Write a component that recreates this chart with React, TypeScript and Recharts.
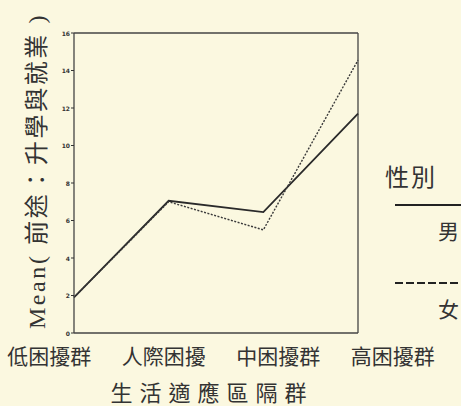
import React from 'react';
import { LineChart, Line, XAxis, YAxis, Legend, Label, ReferenceLine } from 'recharts';

const categories = ['低困擾群', '人際困擾', '中困擾群', '高困擾群'];
const maleValues = [1.9, 7.05, 6.45, 11.7];
const femaleValues = [1.9, 7.0, 5.5, 14.55];
const yTicks = [0, 2, 4, 6, 8, 10, 12, 14, 16];
const seriesOrder = ['male', 'female'];
const seriesNames = { male: '男', female: '女' };
const legendTitle = '性別';
const xTitle = '生活適應區隔群';
const yTitle = 'Mean( 前途：升學與就業 )';

const data = categories.map((c, i) => ({ cat: c, male: maleValues[i], female: femaleValues[i] }));

const BG = '#fbf8e0';
const INK = '#333';
const CJK = '"Noto Sans CJK TC", "Noto Sans CJK SC", sans-serif';
const SERIF = '"Liberation Serif", "Noto Sans CJK TC", serif';

const CatTick = (props: any) => {
  const { x, y, payload } = props;
  const cx = 216;
  const nx = cx + (x - cx) * 1.21 + 5;
  return (
    <text x={nx} y={y + 22} textAnchor="middle" dominantBaseline="central" fill={INK} fontSize={21} fontFamily={CJK}>
      {payload.value}
    </text>
  );
};

const YTick = (props: any) => {
  const { x, y, payload } = props;
  return (
    <text x={x} y={y} textAnchor="end" dominantBaseline="central" fill={INK} fontSize={6} fontWeight="bold" fontFamily="DejaVu Sans">
      {payload.value}
    </text>
  );
};

const LegendContent = (props: any) => {
  const { payload } = props;
  const items = (payload || [])
    .filter((p: any) => seriesOrder.includes(p.dataKey))
    .sort((a: any, b: any) => seriesOrder.indexOf(a.dataKey) - seriesOrder.indexOf(b.dataKey));
  return (
    <div style={{ position: 'relative', width: 90, height: 180, fontFamily: CJK, color: INK }}>
      <div style={{ position: 'absolute', left: 5, top: 5, fontSize: 24, lineHeight: '28px', letterSpacing: 2 }}>{legendTitle}</div>
      {items.map((p: any, i: number) => {
        const top = 46 + i * 78;
        return (
          <React.Fragment key={p.dataKey}>
            <svg style={{ position: 'absolute', left: 15, top: top, overflow: 'visible' }} width={80} height={4}>
              <line x1={0} y1={2} x2={80} y2={2} stroke="#222" strokeWidth={1.8} strokeDasharray={i === 1 ? '8 3' : undefined} />
            </svg>
            <div style={{ position: 'absolute', left: 58, top: top + 14, fontSize: 21, lineHeight: '26px' }}>{p.value}</div>
          </React.Fragment>
        );
      })}
    </div>
  );
};

export default function App() {
  return (
    <div style={{ position: 'absolute', left: 0, top: 0, width: 461, height: 406, overflow: 'hidden', background: BG }}>
      <LineChart width={461} height={406} data={data} margin={{ top: 33, right: 103, bottom: 0, left: 0 }} style={{ background: BG }}>
        <XAxis
          dataKey="cat"
          type="category"
          scale="point"
          padding={{ left: 0, right: 0 }}
          height={73}
          tickLine={false}
          tickSize={0}
          tickMargin={0}
          tick={<CatTick />}
          axisLine={{ stroke: '#444', strokeWidth: 1.3 }}
          interval={0}
        >
          <Label
            content={(p: any) => {
              const vb = p.viewBox;
              return (
                <text x={212} y={vb.y + 58} textAnchor="middle" dominantBaseline="central" fill={INK} fontSize={22} letterSpacing={7} fontFamily={CJK}>
                  {xTitle}
                </text>
              );
            }}
          />
        </XAxis>
        <YAxis
          domain={[0, 16]}
          ticks={yTicks}
          width={74}
          tickSize={3}
          tickMargin={1}
          tick={<YTick />}
          tickLine={{ stroke: '#333' }}
          axisLine={{ stroke: '#444', strokeWidth: 1.3 }}
          interval={0}
        >
          <Label
            content={() => {
              const cx = 37;
              const cy = 171;
              return (
                <text x={cx} y={cy} transform={`rotate(-90 ${cx} ${cy})`} textAnchor="middle" dominantBaseline="central" fill={INK} fontSize={24} letterSpacing={2.6} fontFamily={SERIF}>
                  {yTitle}
                </text>
              );
            }}
          />
        </YAxis>
        <ReferenceLine y={16} stroke="#444" strokeWidth={1.3} />
        <ReferenceLine x={categories[categories.length - 1]} stroke="#444" strokeWidth={1.3} />
        <Legend
          layout="horizontal"
          verticalAlign="middle"
          align="center"
          wrapperStyle={{ position: 'absolute', left: 380, top: 157, width: 90, height: 180 }}
          content={<LegendContent />}
        />
        <Line dataKey="male" name={seriesNames.male} stroke="#2a2a2a" strokeWidth={1.8} dot={false} isAnimationActive={false} />
        <Line dataKey="female" name={seriesNames.female} stroke="#3a3a3a" strokeWidth={1.4} strokeDasharray="2 1.5" dot={false} isAnimationActive={false} />
      </LineChart>
    </div>
  );
}
